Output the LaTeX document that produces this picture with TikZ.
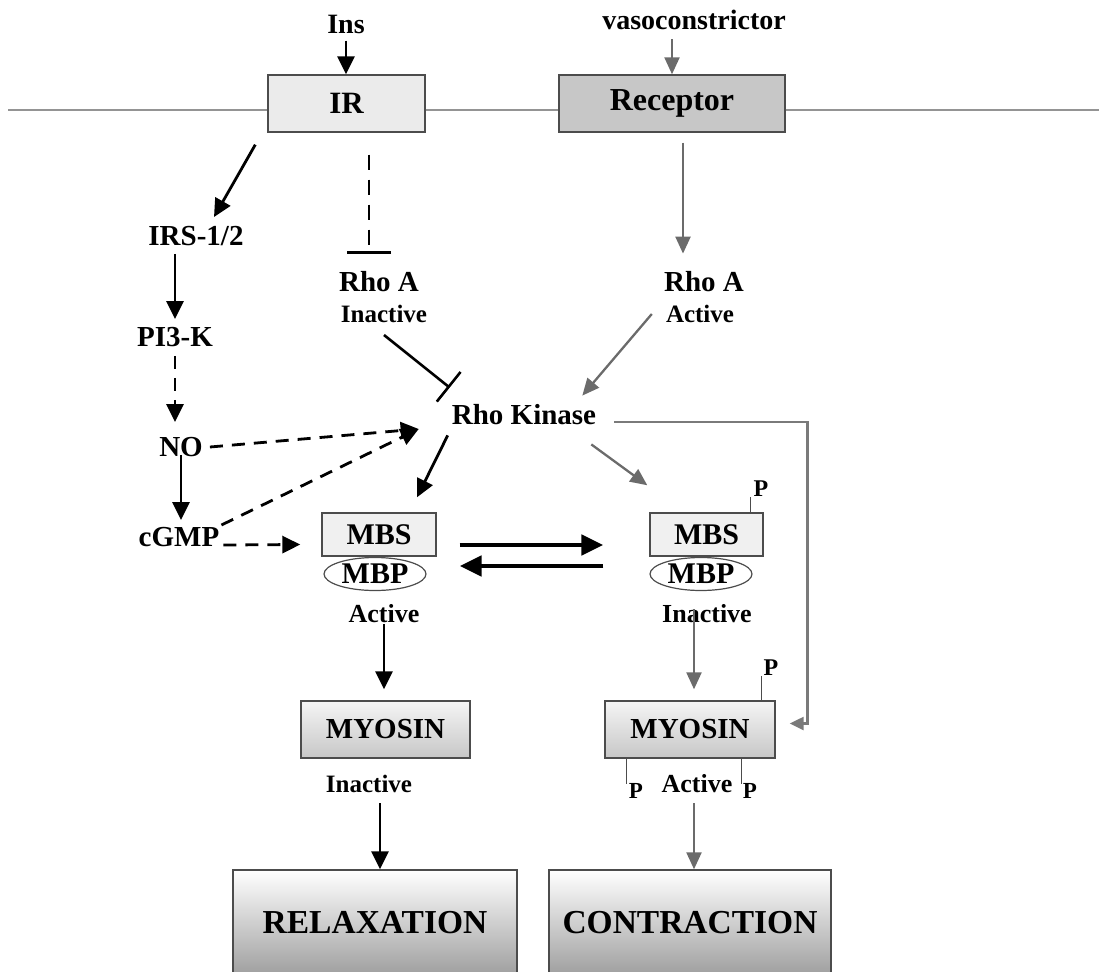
\documentclass[tikz,border=0pt]{standalone}
\usepackage{fontspec}
\setmainfont{Liberation Serif}
\usetikzlibrary{arrows.meta,shapes.geometric}
\newcommand\fs[1]{\fontsize{#1pt}{#1pt}\selectfont\bfseries}
\begin{document}
\begin{tikzpicture}[x=1pt,y=-1pt,
  lab/.style={font=\fs{29},inner sep=0pt},
  sm/.style={font=\fs{25},inner sep=0pt},
  pl/.style={font=\fs{23},inner sep=0pt},
  box/.style={draw=black!70,line width=1.4pt,inner sep=0pt},
  arr/.style={line width=2.8pt,-{Triangle[length=18pt,width=17pt]}},
  garr/.style={draw=black!58,line width=2.3pt,-{Triangle[length=17pt,width=15pt]}},
  darr/.style={line width=2.8pt,dash pattern=on 13pt off 9pt,-{Triangle[length=18pt,width=17pt]}},
  dinh/.style={line width=2.5pt,dash pattern=on 15pt off 10pt,-{Bar[width=44pt]}},
  inh/.style={line width=2.6pt,-{Bar[width=38pt]}},
  stub/.style={draw=black!70,line width=1.3pt},
  mem/.style={draw=black!42,line width=2.3pt},
  thk/.style={line width=4.8pt,-{Triangle[length=22pt,width=20pt]}}
]
\useasboundingbox (0,0) rectangle (1099,971);

% membrane and receptors
\coordinate (mL) at (8,110);
\coordinate (mR) at (1099,110);
\node[box,fill=black!8,minimum width=157pt,minimum height=57pt,font=\fs{31}] (ir) at (346.5,103.5) {IR};
\node[box,fill=black!22,minimum width=226pt,minimum height=57pt,font=\fs{32}] (rec) at (672,103.5) {Receptor};
\draw[mem] (mL) -- (ir.west |- mL);
\draw[mem] (ir.east |- mL) -- (rec.west |- mL);
\draw[mem] (rec.east |- mL) -- (mR);

\node[lab,font=\fs{28}] (ins) at (346,24) {Ins};
\node[lab,font=\fs{28}] (vaso) at (694,20) {vasoconstrictor};

% left column
\node[lab] (irs) at (196,236) {IRS-1/2};
\node[lab] (pi3k) at (175,337) {PI3-K};
\node[lab] (no) at (181,447) {NO};
\node[lab] (cgmp) at (179,537) {cGMP};

% Rho A
\node[lab] (rhoAi) at (379,282) {Rho A};
\node[sm] (inactA) at (384,314) {Inactive};
\node[lab] (rhoAa) at (704,282) {Rho A};
\node[sm] (actA) at (700,314) {Active};
\node[lab] (rk) at (524,415) {Rho Kinase};

% MBS / MBP
\node[box,fill=black!6,minimum width=114pt,minimum height=43pt,font=\fs{30}] (mbsL) at (379,534.5) {MBS};
\node[ellipse,draw=black!70,line width=1.2pt,inner sep=0pt,minimum width=102pt,minimum height=33pt,font=\fs{30}] (mbpL) at (375,574) {MBP};
\node[sm,font=\fs{26}] (actL) at (384,614) {Active};
\node[box,fill=black!6,minimum width=113pt,minimum height=43pt,font=\fs{30}] (mbsR) at (706.5,534.5) {MBS};
\node[ellipse,draw=black!70,line width=1.2pt,inner sep=0pt,minimum width=102pt,minimum height=33pt,font=\fs{30}] (mbpR) at (701,574) {MBP};
\node[sm,font=\fs{26}] (inactR) at (707,614) {Inactive};
\node[pl,font=\fs{24}] (p1) at (761,489) {P};

% Myosin
\node[box,top color=black!4,bottom color=black!22,minimum width=169pt,minimum height=57pt,font=\fs{29}] (myoL) at (385.5,729.5) {MYOSIN};
\node[box,top color=black!4,bottom color=black!22,minimum width=170pt,minimum height=57pt,font=\fs{29}] (myoR) at (690,729.5) {MYOSIN};
\node[sm] (inactM) at (369,784) {Inactive};
\node[sm,font=\fs{26}] (actM) at (697,784) {Active};
\node[pl,font=\fs{24}] (p2) at (771,668) {P};
\node[pl] (p3) at (636,791) {P};
\node[pl] (p4) at (750,791) {P};

% outcomes
\node[box,top color=white,bottom color=black!38,minimum width=284pt,minimum height=106pt,font=\fs{33.5}] (relax) at (375,923) {RELAXATION};
\node[box,top color=white,bottom color=black!38,minimum width=282pt,minimum height=106pt,font=\fs{33.5}] (contr) at (690,923) {CONTRACTION};

% connectors top
\draw[arr,shorten <=7pt] (ins.south) -- (ins.south |- ir.north);
\draw[garr,shorten <=9pt] (vaso.south -| rec.north) -- (rec.north);
\draw[arr] ([shift={(-12pt,-12pt)}]ir.south west) -- ([shift={(18pt,9pt)}]irs.north);
\draw[dinh,shorten <=22pt,shorten >=18pt] ([xshift=-10pt]rhoAi.north |- ir.south) -- ([xshift=-10pt]rhoAi.north);
\draw[garr,shorten <=10pt,shorten >=18pt] ([xshift=11pt]rec.south) -- ([xshift=11pt]rec.south |- rhoAa.north);

% left chain
\draw[arr,shorten <=8pt,shorten >=8pt] (pi3k.north |- irs.south) -- (pi3k.north);
\draw[darr,shorten <=9pt,shorten >=15pt] (pi3k.south) -- (pi3k.south |- no.north);
\draw[arr,shorten <=-2pt,shorten >=7pt] (no.south) -- (no.south |- cgmp.north);

% into Rho Kinase
\coordinate (rkin) at ([shift={(-33pt,-14pt)}]rk.west);
\draw[darr] ([xshift=7pt]no.east) -- (rkin);
\draw[darr] ([shift={(2pt,12pt)}]cgmp.east) -- (rkin);
\draw[inh] ([yshift=-12pt]inactA.south) -- ([shift={(-2pt,17pt)}]rk.north west);
\draw[garr] ([xshift=-14pt]actA.west) -- ([shift={(-14pt,9pt)}]rk.north east);

% out of Rho Kinase
\draw[arr] ([shift={(-4pt,-10pt)}]rk.south west) -- ([shift={(38pt,15pt)}]mbsL.north);
\draw[garr] ([shift={(-5pt,-19pt)}]rk.south east) -- ([shift={(-2pt,27pt)}]mbsR.north west);
\draw[draw=black!52,line width=2.4pt,-{Triangle[length=14pt,width=13pt]}] ([shift={(18pt,-7pt)}]rk.east) -- ++(193pt,0pt) |- ([shift={(14pt,6pt)}]myoR.east);
\draw[darr] ([shift={(4pt,-8pt)}]cgmp.east) -- ([shift={(-21pt,-10pt)}]mbsL.west);

% MBS exchange
\draw[thk] ([shift={(23pt,-10.5pt)}]mbsL.east) -- ([shift={(-46pt,-10.5pt)}]mbsR.west);
\draw[thk] ([shift={(-46pt,-31.5pt)}]mbsR.west) -- ([shift={(23pt,-31.5pt)}]mbsL.east);

% P stubs
\draw[stub] ([xshift=-13pt]mbsR.north east) -- ([xshift=-13pt]mbsR.north east |- p1.south);
\draw[stub] ([xshift=-14pt]myoR.north east) -- ([xshift=-14pt]myoR.north east |- p2.south);
\draw[stub] ([xshift=22pt]myoR.south west) -- ([xshift=22pt,yshift=-25pt]myoR.south west);
\draw[stub] ([xshift=-34pt]myoR.south east) -- ([xshift=-34pt,yshift=-25pt]myoR.south east);

% down to myosin and outcomes
\draw[arr,shorten <=1pt,shorten >=11pt] (actL.south) -- (actL.south |- myoL.north);
\draw[garr,shorten <=-5pt,shorten >=11pt] ([xshift=4pt]myoR.north |- inactR) -- ([xshift=4pt]myoR.north);
\draw[arr,shorten <=10pt] ([xshift=5pt]relax.north |- inactM.south) -- ([xshift=5pt]relax.north);
\draw[garr,shorten <=10pt] ([xshift=4pt]contr.north |- actM.south) -- ([xshift=4pt]contr.north);
\end{tikzpicture}
\end{document}
